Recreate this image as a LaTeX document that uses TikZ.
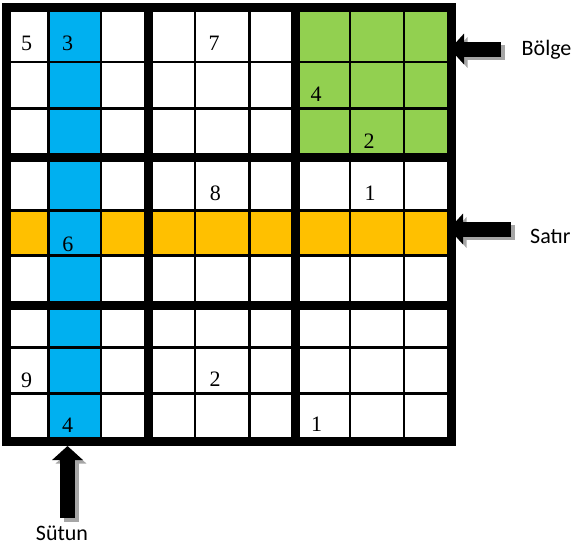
\documentclass[tikz,border=0pt]{standalone}
\usepackage{fontspec}
\setmainfont{Liberation Serif}
\newfontfamily\labfont{Carlito}
\usetikzlibrary{arrows.meta}
\definecolor{colblue}{HTML}{00B0F0}
\definecolor{roworange}{HTML}{FFC000}
\definecolor{boxgreen}{HTML}{92D050}
\definecolor{shadowgray}{HTML}{A6A6A6}
\begin{document}
\begin{tikzpicture}[x=1pt,y=-1pt,
  thingrid/.style={line width=2.5pt},
  thickgrid/.style={line width=9pt},
  digit/.style={font=\fontsize{22}{22}\selectfont, anchor=base, inner sep=0pt},
  lab/.style={font=\labfont\fontsize{22}{22}\selectfont, inner sep=0pt},
  bigarrow/.style={line width=15pt, -{Triangle[width=30pt,length=14pt]}},
  shadowarrow/.style={bigarrow, draw=shadowgray, fill=shadowgray},
  sh/.style={xshift=3.5pt, yshift=-3.5pt},
]
\useasboundingbox (0,0) rectangle (574,546);

% arrows (drawn first, grid on top)
\coordinate (bolgetip) at (450,49);
\coordinate (bolgetail) at (501,49);
\coordinate (satirtip) at (449,229);
\coordinate (satirtail) at (511,229);
\coordinate (sutuntip) at (67.5,446);
\coordinate (sutuntail) at (67.5,518);
\draw[shadowarrow] ([sh]bolgetail) -- ([sh]bolgetip);
\draw[shadowarrow] ([sh]satirtail) -- ([sh]satirtip);
\draw[shadowarrow] ([sh]sutuntail) -- ([sh]sutuntip);
\draw[bigarrow] (bolgetail) -- (bolgetip);
\draw[bigarrow] (satirtail) -- (satirtip);
\draw[bigarrow] (sutuntail) -- (sutuntip);

% fills
\fill[boxgreen] (296,7.2) rectangle (451,157);
\fill[roworange] (6.5,210.7) rectangle (451,255.7);
\fill[colblue] (48.5,7.2) rectangle (100.8,441.7);

% thin lines
\foreach \x in {48.5,100.8,195,249.3,350,404}
  \draw[thingrid] (\x,7.2) -- (\x,441.7);
\foreach \y in {62,108.3,210.7,255.7,347.7,393.3}
  \draw[thingrid] (6.5,\y) -- (451,\y);
% thick lines
\foreach \x in {148.8,295.8}
  \draw[thickgrid] (\x,7.2) -- (\x,441.7);
\foreach \y in {157,305.5}
  \draw[thickgrid] (6.5,\y) -- (451,\y);
\draw[thickgrid] (6.5,7.2) rectangle (451,441.7);

% digits
\node[digit] (d1) at (26.5,50) {5};
\node[digit] (d2) at (67.5,50) {3};
\node[digit] (d3) at (214,50) {7};
\node[digit] (d4) at (316,101.5) {4};
\node[digit] (d5) at (369,148) {2};
\node[digit] (d6) at (215.3,200.7) {8};
\node[digit] (d7) at (370,200.7) {1};
\node[digit] (d8) at (67.8,251) {6};
\node[digit] (d9) at (26.5,387) {9};
\node[digit] (d10) at (215,386.7) {2};
\node[digit] (d11) at (67.5,432) {4};
\node[digit] (d12) at (316.5,431.5) {1};

% labels
\node[lab, anchor=base west] (bolge) at (521.5,56) {Bölge};
\node[lab, anchor=base west] (satir) at (530,243) {Satır};
\node[lab, anchor=base] (sutun) at (62,540.5) {Sütun};
\end{tikzpicture}
\end{document}
